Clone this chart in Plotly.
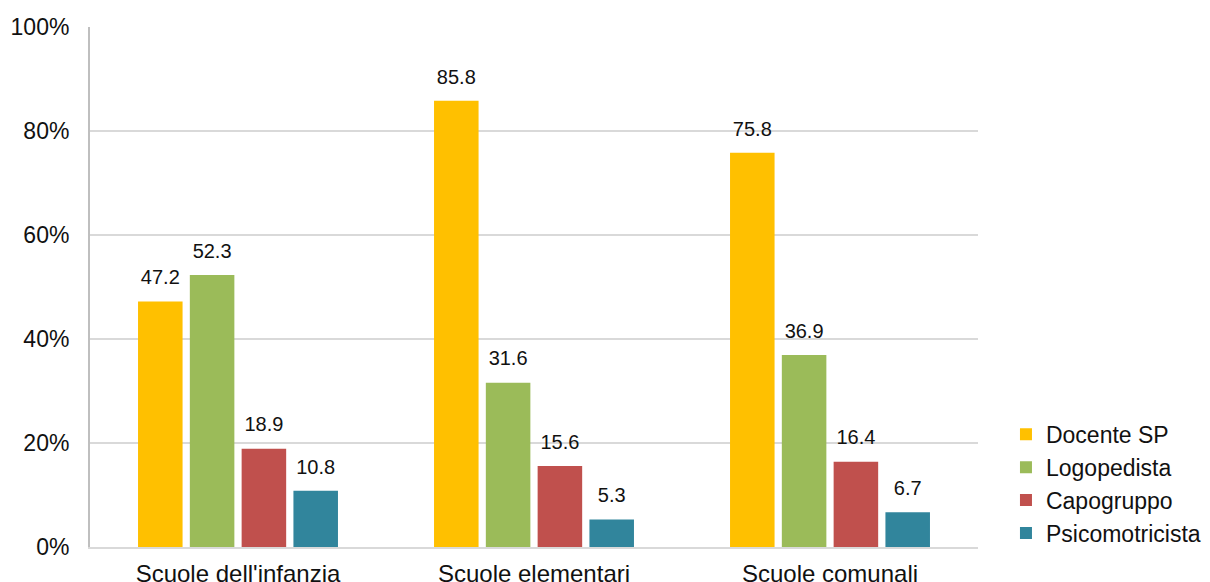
import plotly.graph_objects as go

categories = ["Scuole dell'infanzia", "Scuole elementari", "Scuole comunali"]
docente_sp = [47.2, 85.8, 75.8]
logopedista = [52.3, 31.6, 36.9]
capogruppo = [18.9, 15.6, 16.4]
psicomotricista = [10.8, 5.3, 6.7]

series = [
    ("Docente SP", docente_sp, "#FFC000"),
    ("Logopedista", logopedista, "#9BBB59"),
    ("Capogruppo", capogruppo, "#C0504D"),
    ("Psicomotricista", psicomotricista, "#31859C"),
]

fig = go.Figure()
for name, vals, color in series:
    fig.add_trace(go.Bar(
        x=categories, y=vals, name=name,
        marker=dict(color=color, line=dict(width=0)),
        offsetgroup=name,
    ))
# value labels: invisible markers push the text a bit above each bar
for name, vals, color in series:
    fig.add_trace(go.Scatter(
        x=categories, y=vals, mode="markers+text",
        offsetgroup=name, showlegend=False, hoverinfo="skip",
        marker=dict(size=18, opacity=0),
        text=[f"{v:.1f}" for v in vals],
        textposition="top center",
        textfont=dict(size=20, color="#111111"),
        cliponaxis=False,
    ))

fig.update_layout(
    width=1210, height=582,
    margin=dict(l=90, r=232, t=27, b=35, autoexpand=False),
    paper_bgcolor="white", plot_bgcolor="white",
    font=dict(family="Arial, Liberation Sans, sans-serif", color="#111111"),
    barmode="group", bargap=0.30, bargroupgap=0.14,
    scattermode="group", scattergap=0.30,
    showlegend=True,
    legend=dict(
        x=1.0315, y=-0.015, xanchor="left", yanchor="bottom",
        font=dict(size=23), itemwidth=30, tracegroupgap=0,
        bgcolor="rgba(0,0,0,0)",
    ),
)
fig.update_xaxes(
    showline=True, linecolor="#d9d9d9", linewidth=2,
    tickfont=dict(size=24), ticks="", showgrid=False,
    automargin=False, ticklabelstandoff=4,
)
fig.update_yaxes(
    range=[0, 100], dtick=20, ticksuffix="%",
    showgrid=True, gridcolor="#d9d9d9", gridwidth=2,
    showline=True, linecolor="#bfbfbf", linewidth=2,
    tickfont=dict(size=23), ticks="", zeroline=False,
    automargin=False, ticklabelstandoff=14,
)

fig.write_html("out.html", config={"displayModeBar": False},
               post_script="document.body.style.margin='0';")
